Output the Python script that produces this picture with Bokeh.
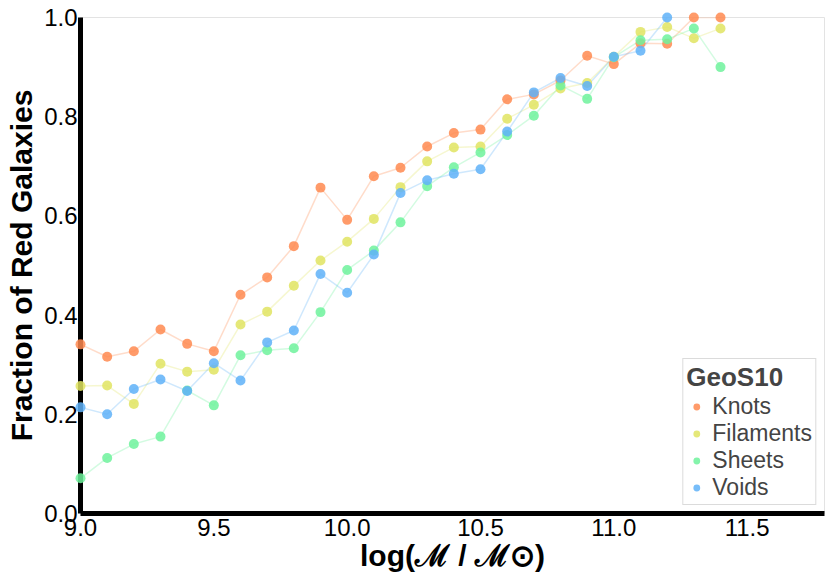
from bokeh.plotting import figure
from bokeh.models import Range1d, Legend, LegendItem, FixedTicker
from bokeh.embed import file_html
from bokeh.resources import INLINE

x_mass = [9.0, 9.1, 9.2, 9.3, 9.4, 9.5, 9.6, 9.7, 9.8, 9.9, 10.0, 10.1, 10.2,
          10.3, 10.4, 10.5, 10.6, 10.7, 10.8, 10.9, 11.0, 11.1, 11.2, 11.3, 11.4]

knots = [0.341, 0.316, 0.327, 0.371, 0.342, 0.327, 0.441, 0.476, 0.539, 0.657, 0.592, 0.680, 0.697,
         0.740, 0.767, 0.774, 0.835, 0.845, 0.873, 0.923, 0.906, 0.948, 0.947, 1.0, 1.0]
filaments = [0.257, 0.258, 0.221, 0.302, 0.286, 0.290, 0.381, 0.407, 0.459, 0.510, 0.548, 0.594, 0.658,
             0.710, 0.738, 0.740, 0.796, 0.824, 0.857, 0.868, 0.921, 0.971, 0.981, 0.958, 0.978]
sheets = [0.071, 0.112, 0.140, 0.155, 0.248, 0.218, 0.319, 0.329, 0.333, 0.406, 0.491, 0.530, 0.587,
          0.660, 0.698, 0.728, 0.763, 0.802, 0.863, 0.836, 0.920, 0.954, 0.956, 0.978, 0.900]
voids = [0.214, 0.200, 0.251, 0.270, 0.247, 0.303, 0.268, 0.345, 0.369, 0.483, 0.445, 0.522, 0.646,
         0.672, 0.685, 0.694, 0.770, 0.849, 0.878, 0.862, 0.921, 0.933, 1.0]

series_names = ["Knots", "Filaments", "Sheets", "Voids"]
series_values = [knots, filaments, sheets, voids]
series_colors = ["#FF8A50", "#E0E462", "#6EF29C", "#5FB2F8"]

x_ticks = [9.0, 9.5, 10.0, 10.5, 11.0, 11.5]
y_ticks = [0.0, 0.2, 0.4, 0.6, 0.8, 1.0]

FONT = "Liberation Sans"

p = figure(width=828, height=580, output_backend="svg", toolbar_location=None,
           x_range=Range1d(9.0, 11.79), y_range=Range1d(0.0, 1.0),
           min_border_left=80, min_border_top=17, min_border_bottom=67, min_border_right=4)

p.xgrid.visible = False
p.ygrid.visible = False
p.outline_line_color = "#e3e3e3"
p.outline_line_width = 1

for ax in (p.xaxis[0], p.yaxis[0]):
    ax.axis_line_width = 5
    ax.axis_line_color = "black"
    ax.major_tick_line_color = None
    ax.minor_tick_line_color = None
    ax.major_tick_out = 0
    ax.minor_tick_out = 0
    ax.major_label_text_font = FONT
    ax.major_label_text_font_size = "24px"
    ax.major_label_text_color = "black"
    ax.axis_label_text_font = FONT
    ax.axis_label_text_font_style = "bold"
    ax.axis_label_text_font_size = "30px"
    ax.axis_label_text_color = "black"

p.xaxis[0].ticker = FixedTicker(ticks=x_ticks)
p.yaxis[0].ticker = FixedTicker(ticks=y_ticks)
p.xaxis[0].major_label_overrides = {t: f"{t:.1f}" for t in x_ticks}
p.yaxis[0].major_label_overrides = {t: f"{t:.1f}" for t in y_ticks}
p.xaxis[0].major_label_standoff = 5
p.yaxis[0].major_label_standoff = 3
p.xaxis[0].axis_label = "log(\u2133 / \u2133\u2299)"
p.yaxis[0].axis_label = "Fraction of Red Galaxies"
p.xaxis[0].axis_label_standoff = 0
p.yaxis[0].axis_label_standoff = 3

items = []
for name, vals, col in zip(series_names, series_values, series_colors):
    xs = x_mass[:len(vals)]
    p.line(xs, vals, line_color=col, line_alpha=0.3, line_width=1.5)
    r = p.scatter(xs, vals, size=10, fill_color=col, fill_alpha=0.85, line_color=None,
                  level="overlay")
    items.append(LegendItem(label=name, renderers=[r]))

legend = Legend(items=items, location="bottom_right", title="GeoS10",
                title_text_font=FONT, title_text_font_style="bold", title_text_font_size="26px",
                title_standoff=0,
                label_text_font=FONT, label_text_font_size="23px",
                glyph_width=20, glyph_height=17, label_height=22, spacing=0,
                label_standoff=6, padding=3, margin=8,
                border_line_color="#b8b8b8", border_line_width=1,
                background_fill_color="white", background_fill_alpha=1.0)
p.add_layout(legend)

open("out.html", "w").write(file_html(p, INLINE))
